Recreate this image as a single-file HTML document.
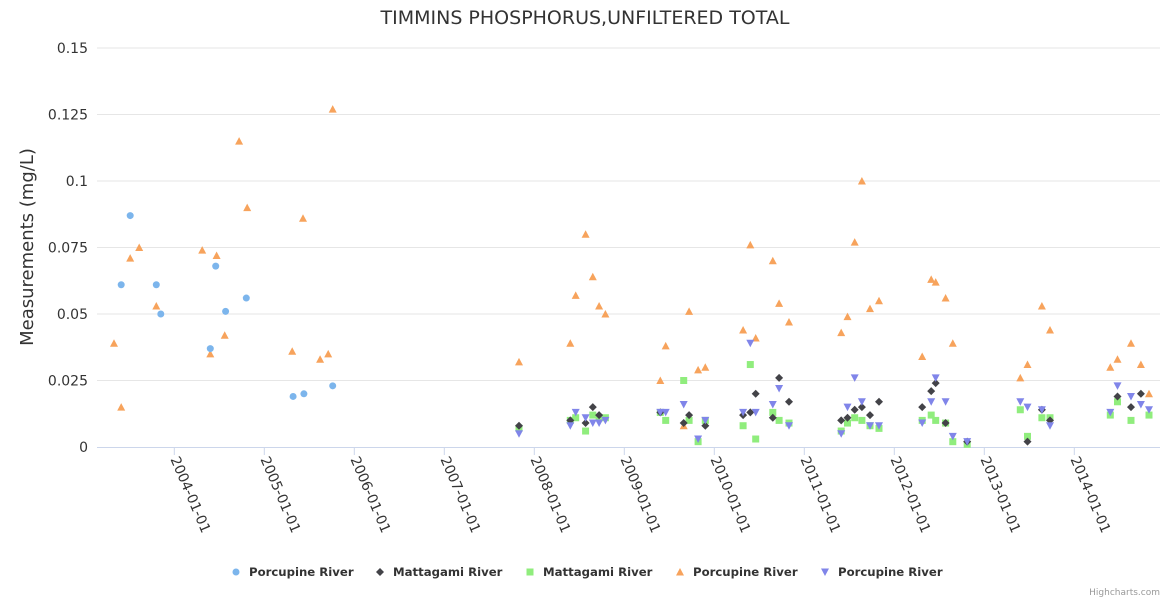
<!DOCTYPE html>
<html><head><meta charset="utf-8"><style>
html,body{margin:0;padding:0;background:#fff;}
svg{display:block;font-family:"DejaVu Sans","Liberation Sans",sans-serif;}
</style></head><body>
<svg id="chart" width="1170" height="600">
<text x="585" y="24" text-anchor="middle" font-size="19" fill="#333">TIMMINS PHOSPHORUS,UNFILTERED TOTAL</text>
<g id="grid"></g>
<g id="xaxis"></g>
<g id="yaxis"></g>
<text transform="translate(33,247) rotate(-90)" text-anchor="middle" font-size="18" fill="#333">Measurements (mg/L)</text>
<g id="series"></g>
<g id="legend"></g>
<text x="1160" y="595" text-anchor="end" font-size="9" fill="#999">Highcharts.com</text>
</svg>
<script>
const yTicks=[0,0.025,0.05,0.075,0.1,0.125,0.15];
const yTickLabels=["0","0.025","0.05","0.075","0.1","0.125","0.15"];
const xTicks=[2004,2005,2006,2007,2008,2009,2010,2011,2012,2013,2014];
const xTickLabels=["2004-01-01","2005-01-01","2006-01-01","2007-01-01","2008-01-01","2009-01-01","2010-01-01","2011-01-01","2012-01-01","2013-01-01","2014-01-01"];
const seriesNames=["Porcupine River","Mattagami River","Mattagami River","Porcupine River","Porcupine River"];
const porcCircleX=[2003.41,2003.51,2003.80,2003.85,2004.40,2004.46,2004.57,2004.80,2005.32,2005.44,2005.76];
const porcCircleY=[0.061,0.087,0.061,0.050,0.037,0.068,0.051,0.056,0.019,0.020,0.023];
const mattDiamondX=[2007.83,2008.40,2008.57,2008.65,2008.72,2009.40,2009.66,2009.72,2009.90,2010.32,2010.40,2010.46,2010.65,2010.72,2010.83,2011.41,2011.48,2011.56,2011.64,2011.73,2011.83,2012.31,2012.41,2012.46,2012.57,2012.81,2013.48,2013.64,2013.73,2014.48,2014.63,2014.74];
const mattDiamondY=[0.008,0.010,0.009,0.015,0.012,0.013,0.009,0.012,0.008,0.012,0.013,0.020,0.011,0.026,0.017,0.010,0.011,0.014,0.015,0.012,0.017,0.015,0.021,0.024,0.009,0.002,0.002,0.014,0.010,0.019,0.015,0.020];
const mattSquareX=[2007.83,2008.40,2008.46,2008.57,2008.65,2008.72,2008.79,2009.40,2009.46,2009.66,2009.72,2009.82,2009.90,2010.32,2010.40,2010.46,2010.65,2010.72,2010.83,2011.41,2011.48,2011.56,2011.64,2011.73,2011.83,2012.31,2012.41,2012.46,2012.57,2012.65,2012.81,2013.40,2013.48,2013.64,2013.73,2014.40,2014.48,2014.63,2014.83];
const mattSquareY=[0.007,0.010,0.011,0.006,0.012,0.011,0.011,0.013,0.010,0.025,0.010,0.002,0.010,0.008,0.031,0.003,0.013,0.010,0.009,0.006,0.009,0.011,0.010,0.008,0.007,0.010,0.012,0.010,0.009,0.002,0.001,0.014,0.004,0.011,0.011,0.012,0.017,0.010,0.012];
const porcTriX=[2003.33,2003.41,2003.51,2003.61,2003.80,2004.31,2004.40,2004.47,2004.56,2004.72,2004.81,2005.31,2005.43,2005.62,2005.71,2005.76,2007.83,2008.40,2008.46,2008.57,2008.65,2008.72,2008.79,2009.40,2009.46,2009.66,2009.72,2009.82,2009.90,2010.32,2010.40,2010.46,2010.65,2010.72,2010.83,2011.41,2011.48,2011.56,2011.64,2011.73,2011.83,2012.31,2012.41,2012.46,2012.57,2012.65,2013.40,2013.48,2013.64,2013.73,2014.40,2014.48,2014.63,2014.74,2014.83];
const porcTriY=[0.039,0.015,0.071,0.075,0.053,0.074,0.035,0.072,0.042,0.115,0.090,0.036,0.086,0.033,0.035,0.127,0.032,0.039,0.057,0.080,0.064,0.053,0.050,0.025,0.038,0.008,0.051,0.029,0.030,0.044,0.076,0.041,0.070,0.054,0.047,0.043,0.049,0.077,0.100,0.052,0.055,0.034,0.063,0.062,0.056,0.039,0.026,0.031,0.053,0.044,0.030,0.033,0.039,0.031,0.020];
const porcDownX=[2007.83,2008.40,2008.46,2008.57,2008.65,2008.72,2008.79,2009.40,2009.46,2009.66,2009.82,2009.90,2010.32,2010.40,2010.46,2010.65,2010.72,2010.83,2011.41,2011.48,2011.56,2011.64,2011.73,2011.83,2012.31,2012.41,2012.46,2012.57,2012.65,2012.81,2013.40,2013.48,2013.64,2013.73,2014.40,2014.48,2014.63,2014.74,2014.83];
const porcDownY=[0.005,0.008,0.013,0.011,0.009,0.009,0.010,0.013,0.013,0.016,0.003,0.010,0.013,0.039,0.013,0.016,0.022,0.008,0.005,0.015,0.026,0.017,0.008,0.008,0.009,0.017,0.026,0.017,0.004,0.002,0.017,0.015,0.014,0.008,0.013,0.023,0.019,0.016,0.014];

const NS="http://www.w3.org/2000/svg";
const L=97,R=1160,T=48,B=447;
const xs=y=>174.3+(y-2004)*90;
const ys=v=>B-(v/0.15)*(B-T);
function mk(tag,attrs,parent){const e=document.createElementNS(NS,tag);for(const k in attrs)e.setAttribute(k,attrs[k]);parent.appendChild(e);return e;}
const grid=document.getElementById('grid'),xa=document.getElementById('xaxis'),ya=document.getElementById('yaxis');
yTicks.forEach((v,i)=>{
  if(v>0){const g=mk('line',{x1:L,x2:R,y1:ys(v),y2:ys(v),stroke:'#e6e6e6','stroke-width':1},grid);
  
  }
  const t=mk('text',{x:88,y:ys(v)+5,'text-anchor':'end','font-size':14,fill:'#333'},ya);
  t.textContent=yTickLabels[i];
  
  
});
const ax=mk('line',{x1:L,x2:R,y1:B+0.5,y2:B+0.5,stroke:'#ccd6eb','stroke-width':1},xa);


xTicks.forEach((v,i)=>{
  const x=xs(v);
  const tk=mk('line',{x1:x,x2:x,y1:B,y2:B+8,stroke:'#ccd6eb'},xa);
  
  
  const t=mk('text',{x:0,y:0,'font-size':14,fill:'#333',transform:`translate(${x-4},${B+12}) rotate(67)`},xa);
  t.textContent=xTickLabels[i];
  
  
});
const sg=document.getElementById('series');
function sym(type,x,y,color,p){
  let e;
  if(type==='circle')e=mk('circle',{cx:x,cy:y,r:3.5,fill:color},p);
  else if(type==='diamond')e=mk('path',{d:`M${x} ${y-4}L${x+4} ${y}L${x} ${y+4}L${x-4} ${y}Z`,fill:color},p);
  else if(type==='square')e=mk('rect',{x:x-3.5,y:y-3.5,width:7,height:7,fill:color},p);
  else if(type==='tri')e=mk('path',{d:`M${x} ${y-4}L${x+4} ${y+3.5}L${x-4} ${y+3.5}Z`,fill:color},p);
  else e=mk('path',{d:`M${x-4} ${y-3.5}L${x+4} ${y-3.5}L${x} ${y+4}Z`,fill:color},p);
  return e;
}
const defs=[[porcCircleX,porcCircleY,'circle','#7cb5ec'],[mattDiamondX,mattDiamondY,'diamond','#434348'],[mattSquareX,mattSquareY,'square','#90ed7d'],[porcTriX,porcTriY,'tri','#f7a35c'],[porcDownX,porcDownY,'down','#8085e9']];
const order=[3,2,1,0,4];
order.forEach(si=>{
  const [X,Y,type,color]=defs[si];
  const g=mk('g',{},sg);
  
  
  X.forEach((xv,j)=>{
    const e=sym(type,xs(xv),ys(Y[j]),color,g);
    
    
  });
});
const lg=document.getElementById('legend');
const lx=[236,380,530,680,825];
defs.forEach((d,i)=>{
  const g=mk('g',{},lg);
  
  
  sym(d[2],lx[i],572,d[3],g);
  const t=mk('text',{x:lx[i]+13,y:576,'font-size':11.7,'font-weight':'bold',fill:'#333'},g);
  t.textContent=seriesNames[i];
});
</script>
</body></html>
